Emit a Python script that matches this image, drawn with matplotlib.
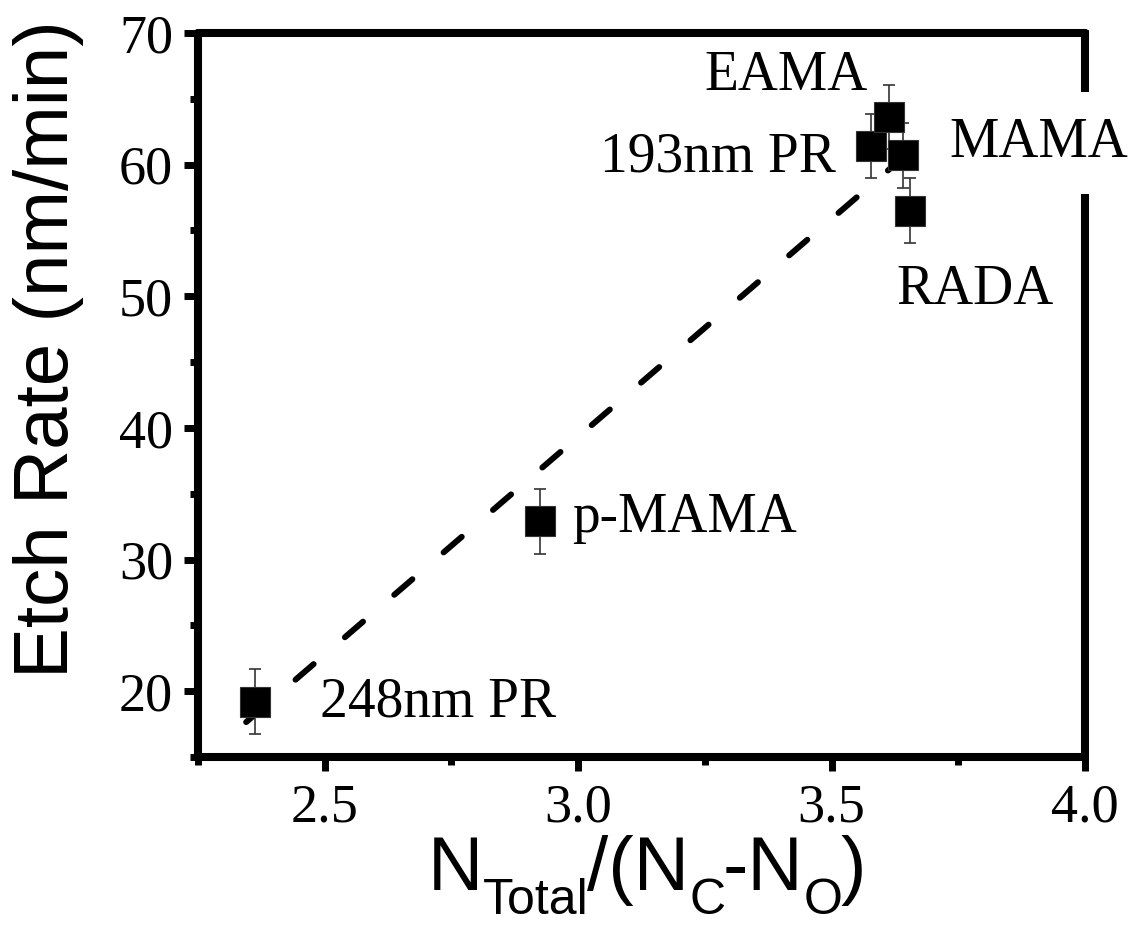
import numpy as np
import matplotlib
matplotlib.use("Agg")
import matplotlib.pyplot as plt
from matplotlib.transforms import IdentityTransform

# ---- data ----
materials = ["248nm PR", "p-MAMA", "193nm PR", "EAMA", "MAMA", "RADA"]
ratio = [2.363, 2.924, 3.578, 3.614, 3.641, 3.655]
etch_rate = [19.2, 32.9, 61.4, 63.6, 60.7, 56.5]
etch_err = [2.45, 2.45, 2.45, 2.45, 2.45, 2.45]
fit_x = [2.345, 3.682]
fit_y = [17.65, 61.9]
x_ticks = [2.5, 3.0, 3.5, 4.0]
y_ticks = [20, 30, 40, 50, 60, 70]
label_pos_x = [2.490, 2.988, 3.043, 3.249, 3.733, 3.627]
label_pos_y = [18.1, 32.1, 59.5, 65.7, 60.6, 49.4]

W, H = 1146, 926
fig = plt.figure(figsize=(W / 100, H / 100), dpi=100)
ax = fig.add_axes([198 / W, 1 - 757 / H, (1085 - 198) / W, (757 - 33) / H])

# fit line
line, = ax.plot(fit_x, fit_y, color='black', lw=4.3,
                dashes=(4.0, 6.9), zorder=1)
line.set_dash_capstyle('round')

ax.errorbar(ratio, etch_rate, yerr=etch_err, fmt='none', ecolor='#333333',
            elinewidth=1.2, capsize=4.5, capthick=1.2, zorder=2)
ax.plot(ratio, etch_rate, ls='none', marker='s', ms=22, mfc='black',
        mec='#333333', mew=0.8, zorder=3)

for name, tx, ty in zip(materials, label_pos_x, label_pos_y):
    kw = {}
    if name == "MAMA":
        kw['bbox'] = dict(boxstyle='square,pad=0.45', fc='white', ec='none')
    ax.text(tx, ty, name, family='Liberation Serif', fontsize=40,
            ha='left', va='baseline', zorder=5, clip_on=False, **kw)

ax.set_xlim(2.25, 4.0)
ax.set_ylim(15, 70)
ax.set_xticks(x_ticks)
ax.set_xticks([2.25, 2.75, 3.25, 3.75], minor=True)
ax.set_yticks(y_ticks)
ax.set_yticks([15, 25, 35, 45, 55, 65], minor=True)
ax.set_xticklabels([f"{v:.1f}" for v in x_ticks])
ax.set_yticklabels([str(v) for v in y_ticks])

for sp in ax.spines.values():
    sp.set_linewidth(5.8)
    sp.set_capstyle('round')

ax.tick_params(which='major', direction='out', length=10, width=5, pad=8,
               top=True, right=True)
ax.tick_params(which='minor', direction='out', length=6, width=5,
               top=True, right=True)
ax.tick_params(axis='x', which='major', pad=9)
for t in ax.xaxis.get_major_ticks() + ax.yaxis.get_major_ticks():
    t.tick2line.set_markersize(2)
for t in ax.xaxis.get_minor_ticks() + ax.yaxis.get_minor_ticks():
    t.tick2line.set_markersize(2)

for lab in ax.get_xticklabels() + ax.get_yticklabels():
    lab.set_fontfamily('Liberation Serif')
    lab.set_fontsize(39)

# y label (pixel placement)
fig.text(68, H - 349, "Etch Rate (nm/min)", family='Liberation Sans',
         fontsize=55, rotation=90, rotation_mode='anchor', ha='center',
         va='baseline', transform=IdentityTransform())

# x label built from pieces with real subscripts
pieces = [("N", False), ("Total", True), ("/(N", False), ("C", True),
          ("-N", False), ("O", True), (")", False)]
renderer = fig.canvas.get_renderer()
x = 428
base = H - 890
for txt, sub in pieces:
    t = fig.text(x, base - (24 if sub else 0), txt, family='Liberation Sans',
                 fontsize=36 if sub else 55, ha='left', va='baseline',
                 transform=IdentityTransform())
    bb = t.get_window_extent(renderer)
    x = bb.x1 + (-2 if sub else 0)

fig.savefig("out.png", dpi=100)
